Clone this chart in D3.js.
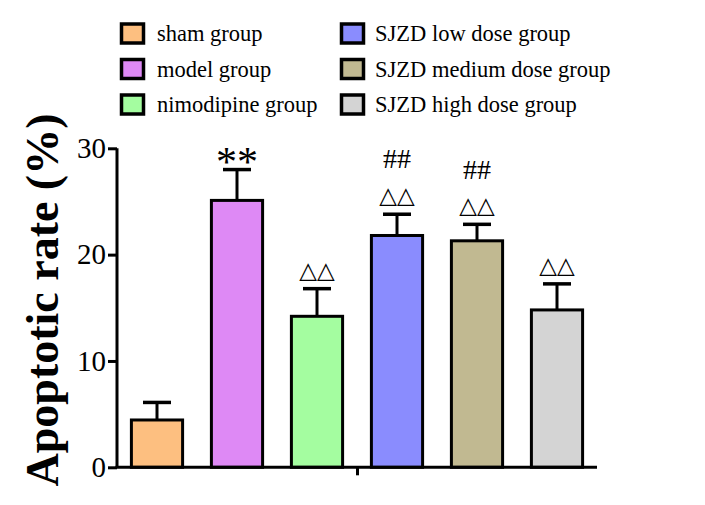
<!DOCTYPE html>
<html>
<head>
<meta charset="utf-8">
<script src="https://cdn.jsdelivr.net/npm/d3@7"></script>
<style>
  html, body { margin: 0; padding: 0; background: #fff; }
  svg { display: block; }
</style>
</head>
<body>
<svg id="chart" width="705" height="505"></svg>
<script>
// ---- data ----
const groups = ["sham group", "model group", "nimodipine group", "SJZD low dose group", "SJZD medium dose group", "SJZD high dose group"];
const means  = [4.45, 25.1, 14.2, 21.8, 21.3, 14.8];
const errors = [1.65, 2.9, 2.6, 2.0, 1.55, 2.45];
const colors = ["#FDBF80", "#DE89F5", "#A4FDA0", "#8A8CFE", "#C1B991", "#D4D4D4"];
const starMarks = ["", "**", "", "", "", ""];
const triMarks  = ["", "", "△△", "△△", "△△", "△△"];
const hashMarks = ["", "", "", "##", "##", ""];
const yTicks = [0, 10, 20, 30];
const yTitle = "Apoptotic rate (%)";

// ---- layout ----
const svg = d3.select("#chart");
const serif = "'Liberation Serif', 'Times New Roman', serif";
const x0 = 117, x1 = 597, yTop = 148.3, yBot = 467.3;

const x = d3.scaleBand().domain(groups).range([x0, x1]).paddingInner(0.36).paddingOuter(0.18);
const y = d3.scaleLinear().domain([0, 30]).range([yBot, yTop]);

// bars
const g = svg.append("g");
g.selectAll("rect.bar").data(groups).join("rect")
  .attr("class", "bar")
  .attr("x", d => x(d))
  .attr("width", x.bandwidth())
  .attr("y", (d, i) => y(means[i]))
  .attr("height", (d, i) => y(0) - y(means[i]))
  .attr("fill", (d, i) => colors[i])
  .attr("stroke", "#000")
  .attr("stroke-width", 3);

// error bars
const cap = 28;
g.selectAll("line.err").data(groups).join("line")
  .attr("class", "err")
  .attr("x1", d => x(d) + x.bandwidth() / 2)
  .attr("x2", d => x(d) + x.bandwidth() / 2)
  .attr("y1", (d, i) => y(means[i]))
  .attr("y2", (d, i) => y(means[i] + errors[i]))
  .attr("stroke", "#000").attr("stroke-width", 3);
g.selectAll("line.cap").data(groups).join("line")
  .attr("class", "cap")
  .attr("x1", d => x(d) + x.bandwidth() / 2 - cap / 2)
  .attr("x2", d => x(d) + x.bandwidth() / 2 + cap / 2)
  .attr("y1", (d, i) => y(means[i] + errors[i]))
  .attr("y2", (d, i) => y(means[i] + errors[i]))
  .attr("stroke", "#000").attr("stroke-width", 3.5);

// annotations
g.selectAll("text.star").data(groups).join("text")
  .attr("class", "star")
  .attr("x", d => x(d) + x.bandwidth() / 2)
  .attr("y", (d, i) => y(means[i] + errors[i]) - 20)
  .attr("dy", "0.62em")
  .attr("text-anchor", "middle")
  .style("font-family", serif).style("font-size", "42px")
  .text((d, i) => starMarks[i]);
g.selectAll("text.tri").data(groups).join("text")
  .attr("class", "tri")
  .attr("x", d => x(d) + x.bandwidth() / 2)
  .attr("y", (d, i) => y(means[i] + errors[i]) - 19)
  .attr("dy", "0.35em")
  .attr("text-anchor", "middle")
  .style("font-family", "'DejaVu Sans', sans-serif").style("font-size", "23px")
  .text((d, i) => triMarks[i]);
g.selectAll("text.hash").data(groups).join("text")
  .attr("class", "hash")
  .attr("x", d => x(d) + x.bandwidth() / 2)
  .attr("y", (d, i) => y(means[i] + errors[i]) - 55)
  .attr("dy", "0.33em")
  .attr("text-anchor", "middle")
  .style("font-family", serif).style("font-size", "28px")
  .text((d, i) => hashMarks[i]);

// y axis
const yAxis = svg.append("g").attr("transform", `translate(${x0},0)`)
  .call(d3.axisLeft(y).tickValues(yTicks).tickSize(9).tickPadding(2));
yAxis.select(".domain").attr("stroke-width", 3).attr("d", `M0,${yTop}V${yBot}`);
yAxis.selectAll(".tick line").attr("stroke-width", 3);
yAxis.selectAll(".tick text").style("font-family", serif).style("font-size", "29px").attr("fill", "#000");

// x axis (single centre tick, no labels)
const xl = d3.scaleLinear().domain([0, 1]).range([x0, x1]);
const xAxis = svg.append("g").attr("transform", `translate(0,${yBot})`)
  .call(d3.axisBottom(xl).tickValues([0.5]).tickFormat("").tickSize(8));
xAxis.select(".domain").attr("stroke-width", 3).attr("d", `M${x0 - 1.5},0H${x1}`);
xAxis.selectAll(".tick line").attr("stroke-width", 3);

// y title
svg.append("text")
  .attr("transform", "translate(58,300) rotate(-90)")
  .attr("text-anchor", "middle")
  .style("font-family", serif).style("font-weight", "bold").style("font-size", "46px")
  .text(yTitle);

// legend
const legX = [120, 340], legTextX = [157, 375], legY = [41, 76.5, 112];
const leg = svg.append("g");
groups.forEach((name, i) => {
  const col = Math.floor(i / 3), row = i % 3;
  leg.append("rect")
    .attr("x", legX[col] + 1.5).attr("y", legY[row] - 17)
    .attr("width", 22).attr("height", 19)
    .attr("fill", colors[i]).attr("stroke", "#000").attr("stroke-width", 3.5);
  leg.append("text")
    .attr("x", legTextX[col]).attr("y", legY[row])
    .style("font-family", serif).style("font-size", "22.5px")
    .text(name);
});
</script>
</body>
</html>
